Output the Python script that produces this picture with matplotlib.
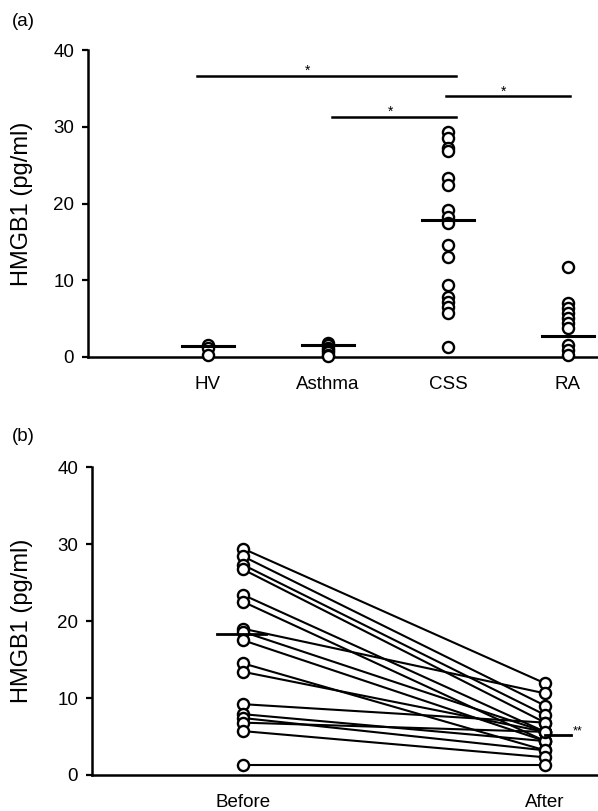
import matplotlib
matplotlib.use("Agg")
import matplotlib.pyplot as plt

plt.rcParams['font.family'] = ['Liberation Sans', 'DejaVu Sans']

# panel (a) data
groups = ['HV', 'Asthma', 'CSS', 'RA']
group_x = [1, 2, 3, 4]
hv = [1.6, 1.2, 0.3]
asthma = [1.8, 1.5, 1.2, 0.9, 0.6, 0.3, 0.1]
css = [29.4, 28.6, 27.3, 26.8, 23.4, 22.4, 19.1, 18.3, 17.5, 14.6, 13.0,
       9.4, 7.8, 7.2, 6.5, 5.7, 1.3]
ra = [11.7, 7.0, 6.4, 5.7, 5.1, 4.4, 3.8, 1.6, 0.9, 0.3]
medians = [1.4, 1.5, 17.8, 2.7]
# significance bars: (x start, x end, height, star x)
sig_bars = [(0.91, 3.07, 36.7, 1.83),
            (2.98, 4.02, 34.0, 3.46),
            (2.03, 3.07, 31.3, 2.52)]

# panel (b) data
before = [29.4, 28.4, 27.3, 26.7, 23.4, 22.5, 19.0, 18.6, 17.5, 14.5, 13.4,
          9.2, 7.9, 7.4, 6.8, 5.7, 1.3]
after = [11.9, 9.0, 7.8, 6.8, 5.6, 4.4, 10.6, 5.6, 4.4, 3.2, 5.6,
         6.8, 4.4, 3.2, 5.6, 2.3, 1.3]
before_median = 18.3
after_median = 5.2

fig = plt.figure(figsize=(5.98, 8.11), dpi=100)

mk = dict(marker='o', mfc='white', mec='black', mew=1.7, ms=8, ls='none',
          clip_on=False, zorder=3)

def style_axis(ax, label_x):
    ax.spines['top'].set_visible(False)
    ax.spines['right'].set_visible(False)
    ax.spines['left'].set_linewidth(1.8)
    ax.spines['bottom'].set_linewidth(1.8)
    ax.set_ylim(0, 40)
    ax.set_yticks([0, 10, 20, 30, 40])
    ax.tick_params(axis='y', direction='out', length=4, width=1.6,
                   labelsize=13.5, pad=6)
    ax.tick_params(axis='x', length=0, labelsize=13.5, pad=14)
    ax.set_ylabel('HMGB1 (pg/ml)', fontsize=17)
    ax.yaxis.set_label_coords(label_x, 0.5)

# ---- (a)
ax1 = fig.add_axes([0.147, 0.56, 0.853, 0.378])
style_axis(ax1, -0.108)
ax1.set_xlim(0, 4.25)
for xv, vals in zip(group_x, [hv, asthma, css, ra]):
    ax1.plot([xv] * len(vals), vals, **mk)
for xv, m in zip(group_x, medians):
    ax1.plot([xv - 0.22, xv + 0.22], [m, m], color='black', lw=2.2, zorder=4,
             clip_on=False)
for x0, x1, h, sx in sig_bars:
    ax1.plot([x0, x1], [h, h], color='black', lw=1.8, clip_on=False)
    ax1.text(sx, h - 0.3, '*', ha='center', va='bottom', fontsize=10)
ax1.set_xticks(group_x)
ax1.set_xticklabels(groups)
fig.text(0.02, 0.973, '(a)', fontsize=13.5, ha='left', va='center')

# ---- (b)
ax2 = fig.add_axes([0.154, 0.0444, 0.846, 0.3797])
style_axis(ax2, -0.117)
ax2.set_xlim(0, 3.35)
for b, a in zip(before, after):
    ax2.plot([1, 3], [b, a], color='black', lw=1.5, zorder=2)
ax2.plot([1] * len(before), before, **mk)
ax2.plot([3] * len(after), after, **mk)
ax2.plot([0.83, 1.15], [before_median, before_median], color='black', lw=2,
         zorder=4)
ax2.plot([3.0, 3.17], [after_median, after_median], color='black', lw=2,
         zorder=4)
ax2.text(3.18, after_median - 0.3, '**', ha='left', va='bottom', fontsize=9)
ax2.set_xticks([1, 3])
ax2.set_xticklabels(['Before', 'After'])
fig.text(0.02, 0.462, '(b)', fontsize=13.5, ha='left', va='center')

fig.savefig('out.png', dpi=100)
